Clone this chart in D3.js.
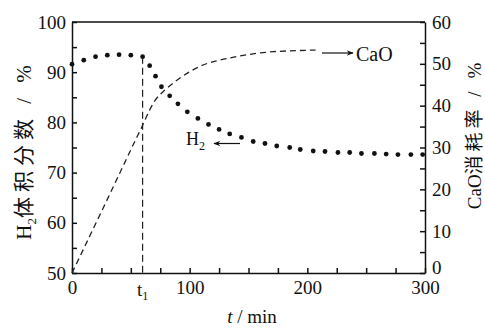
<!DOCTYPE html>
<html>
<head>
<meta charset="utf-8">
<script src="https://cdn.jsdelivr.net/npm/d3@7"></script>
<style>
  body { margin: 0; background: #fff; }
</style>
</head>
<body>
<div id="chart"></div>
<script>
// H2 体积分数 (dots)
const h2Time = [0, 10, 20, 30, 40, 50, 60, 66, 71, 76, 83, 90, 98, 107, 116, 125, 134, 144,
  154, 164, 174, 185, 194, 205, 215, 226, 236, 246, 257, 267, 277, 288, 298];
const h2Values = [91.6, 92.4, 93.1, 93.4, 93.5, 93.4, 93.1, 91.3, 89.2, 87.1, 85.3, 83.7, 82.1,
  80.8, 79.6, 78.6, 77.7, 77.0, 76.2, 75.8, 75.3, 75.0, 74.6, 74.3, 74.2, 74.0, 74.0, 73.8,
  73.8, 73.7, 73.6, 73.6, 73.6];

// CaO 消耗率 (dashed)
const caoTime = [0, 30, 55, 60, 65, 70, 78, 86, 100, 115, 129, 143, 157, 171, 185, 207];
const caoValues = [0, 17.6, 32.4, 35.3, 38.4, 41.0, 43.5, 45.4, 48.1, 50.1, 51.1, 51.9, 52.5, 52.9, 53.1, 53.3];

const t1 = 60;
const xTickLabels = [0, 100, 200, 300];
const leftTickLabels = [50, 60, 70, 80, 90, 100];
const rightTickLabels = [0, 10, 20, 30, 40, 50, 60];

const width = 485, height = 328;
const font = "'Liberation Serif', 'Noto Sans CJK SC', serif";

const svg = d3.select("#chart")
  .append("svg")
  .attr("width", width)
  .attr("height", height)
  .style("font-family", font);

const x = d3.scaleLinear().domain([0, 300]).range([72, 425]);
const yL = d3.scaleLinear().domain([50, 100]).range([273, 22]);
const yR = d3.scaleLinear().domain([0, 60]).range([273, 22]);

// 箭头
const defs = svg.append("defs");
defs.append("marker")
  .attr("id", "arr")
  .attr("viewBox", "0 0 10 10")
  .attr("refX", 9).attr("refY", 5)
  .attr("markerWidth", 9).attr("markerHeight", 7)
  .attr("markerUnits", "userSpaceOnUse")
  .attr("orient", "auto")
  .append("path")
  .attr("d", "M0,1 L10,5 L0,9 L3,5 Z")
  .attr("fill", "#111");

// 坐标轴
const xAxis = d3.axisBottom(x)
  .tickValues(d3.range(0, 301, 25))
  .tickFormat(d => xTickLabels.includes(d) ? d : "")
  .tickSizeInner(-5).tickSizeOuter(0).tickPadding(8);

const leftAxis = d3.axisLeft(yL)
  .tickValues(d3.range(50, 101, 5))
  .tickFormat(d => leftTickLabels.includes(d) ? d : "")
  .tickSizeInner(-5).tickSizeOuter(0).tickPadding(6);

const rightAxis = d3.axisRight(yR)
  .tickValues(d3.range(0, 61, 5))
  .tickFormat(d => rightTickLabels.includes(d) ? d : "")
  .tickSizeInner(-5).tickSizeOuter(0).tickPadding(7);

function styleAxis(g) {
  g.selectAll("path, line").attr("stroke", "#111").attr("stroke-width", 1.5);
  g.selectAll("text").attr("fill", "#111").style("font-family", font).style("font-size", "19px");
}

svg.append("g").attr("transform", "translate(0,273)").call(xAxis).call(styleAxis);
svg.append("g").attr("transform", "translate(72,0)").call(leftAxis).call(styleAxis);
const rightG = svg.append("g").attr("transform", "translate(425,0)").call(rightAxis).call(styleAxis);
// 右轴 0 稍上移, 避免与 300 重叠
rightG.selectAll(".tick text").filter(d => d === 0).attr("dy", "0em");

// 上边框
svg.append("line")
  .attr("x1", x(0)).attr("x2", x(300))
  .attr("y1", yL(100)).attr("y2", yL(100))
  .attr("stroke", "#111").attr("stroke-width", 1.5);

// t1 标签
const t1Label = svg.append("text")
  .attr("x", x(t1)).attr("y", 296)
  .attr("text-anchor", "middle")
  .style("font-size", "19px").attr("fill", "#111");
t1Label.append("tspan").text("t");
t1Label.append("tspan").attr("font-size", "12px").attr("dy", 4).text("1");

// t1 竖虚线
const h2AtT1 = h2Values[h2Time.indexOf(t1)];
svg.append("line")
  .attr("x1", x(t1)).attr("x2", x(t1))
  .attr("y1", yL(h2AtT1)).attr("y2", yL(50))
  .attr("stroke", "#222").attr("stroke-width", 1.2)
  .attr("stroke-dasharray", "7,4");

// CaO 曲线
const caoData = caoTime.map((t, i) => ({ t, v: caoValues[i] }));
svg.append("path")
  .datum(caoData)
  .attr("fill", "none")
  .attr("stroke", "#222")
  .attr("stroke-width", 1.3)
  .attr("stroke-dasharray", "6,4")
  .attr("d", d3.line().x(d => x(d.t)).y(d => yR(d.v)).curve(d3.curveMonotoneX));

// H2 点
const h2Data = h2Time.map((t, i) => ({ t, v: h2Values[i] }));
svg.selectAll("circle.h2")
  .data(h2Data)
  .enter()
  .append("circle")
  .attr("class", "h2")
  .attr("cx", d => x(d.t))
  .attr("cy", d => yL(d.v))
  .attr("r", 2.4)
  .attr("fill", "#111");

// 注释: H2
svg.append("line")
  .attr("x1", 240).attr("x2", 214)
  .attr("y1", 143.5).attr("y2", 143.5)
  .attr("stroke", "#111").attr("stroke-width", 1.2)
  .attr("marker-end", "url(#arr)");
const h2Lab = svg.append("text")
  .attr("x", 186).attr("y", 145)
  .style("font-size", "18px").attr("fill", "#111");
h2Lab.append("tspan").text("H");
h2Lab.append("tspan").attr("font-size", "12px").attr("dy", 5).text("2");

// 注释: CaO
svg.append("line")
  .attr("x1", 322).attr("x2", 353)
  .attr("y1", 53).attr("y2", 53)
  .attr("stroke", "#111").attr("stroke-width", 1.2)
  .attr("marker-end", "url(#arr)");
svg.append("text")
  .attr("x", 356).attr("y", 61)
  .style("font-size", "20px").attr("fill", "#111")
  .text("CaO");

// 左纵轴标题
const leftTitle = svg.append("text")
  .attr("transform", "translate(31,150) rotate(-90)")
  .attr("text-anchor", "middle")
  .style("font-size", "21px").attr("fill", "#111");
leftTitle.append("tspan").text("H");
leftTitle.append("tspan").attr("font-size", "13px").attr("dy", 5).text("2");
leftTitle.append("tspan").attr("dy", -5).attr("letter-spacing", "5px").text("体积分数 / %");

// 右纵轴标题
const rightTitle = svg.append("text")
  .attr("transform", "translate(481,134) rotate(-90)")
  .attr("text-anchor", "middle")
  .style("font-size", "19px").attr("fill", "#111");
rightTitle.append("tspan").text("CaO");
rightTitle.append("tspan").attr("letter-spacing", "4px").text("消耗率 / %");

// 横轴标题
const xTitle = svg.append("text")
  .attr("x", 252).attr("y", 323)
  .attr("text-anchor", "middle")
  .style("font-size", "19px").attr("fill", "#111");
xTitle.append("tspan").attr("font-style", "italic").text("t");
xTitle.append("tspan").text(" / min");
</script>
</body>
</html>
